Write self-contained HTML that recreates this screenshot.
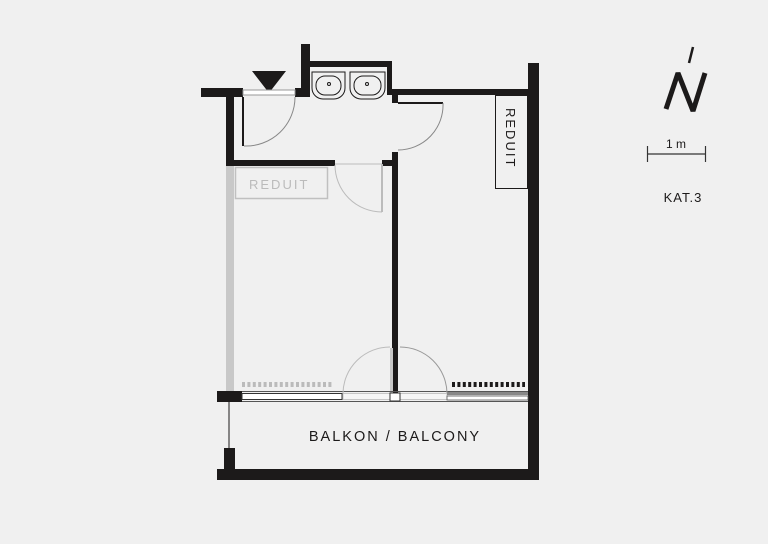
<!DOCTYPE html>
<html><head><meta charset="utf-8"><style>
html,body{margin:0;padding:0;background:#f0f0f0;}
svg{display:block;}
text{font-family:"Liberation Sans",sans-serif;}
</style></head><body>
<svg width="768" height="544" viewBox="0 0 768 544" xmlns="http://www.w3.org/2000/svg">
<rect width="768" height="544" fill="#f0f0f0"/>
<g fill="#1c1a1a">
<rect x="201" y="88" width="42" height="9"/>
<rect x="295" y="88" width="15" height="9"/>
<rect x="301" y="44" width="9" height="53"/>
<rect x="226" y="90" width="8" height="76"/>
<rect x="226" y="160" width="109" height="6"/>
<rect x="303" y="61" width="89" height="6"/>
<rect x="387" y="61" width="5" height="34"/>
<rect x="387" y="89" width="143" height="6"/>
<rect x="392" y="95" width="6" height="8"/>
<rect x="382" y="160" width="10" height="6"/>
<rect x="392" y="152" width="6" height="248"/>
<rect x="528" y="63" width="11" height="417"/>
<rect x="217" y="469" width="322" height="11"/>
<rect x="217" y="391" width="25" height="11"/>
<rect x="224" y="448" width="11" height="29"/>
<polygon points="252,71 286,71 269,93"/>
</g>
<rect x="226" y="166" width="8" height="225" fill="#c8c8c8"/>
<rect x="390" y="348" width="3" height="45" fill="#c8c8c8"/>
<line x1="229" y1="402" x2="229" y2="448" stroke="#1c1a1a" stroke-width="1"/>
<rect x="243" y="90" width="52" height="5" fill="#fff" stroke="#999" stroke-width="1"/>
<rect x="242" y="97" width="2" height="49" fill="#1c1a1a"/>
<path d="M244 146 A49 49 0 0 0 295 97" fill="none" stroke="#888" stroke-width="1"/>
<rect x="398" y="102" width="45" height="2" fill="#1c1a1a"/>
<path d="M443 103 A45 45 0 0 1 398 150" fill="none" stroke="#888" stroke-width="1"/>
<line x1="335" y1="164" x2="382" y2="164" stroke="#bbb" stroke-width="1"/>
<rect x="381" y="164" width="2" height="48" fill="#bbb"/>
<path d="M335 165 A47 47 0 0 0 382 212" fill="none" stroke="#bbb" stroke-width="1"/>
<g fill="none" stroke="#1c1a1a" stroke-width="1">
<path d="M312 72 H345 V88 A11 11 0 0 1 334 99 H323 A11 11 0 0 1 312 88 Z"/>
<rect x="316" y="76" width="25" height="19" rx="9"/>
<circle cx="329" cy="84" r="1.5"/>
<path d="M350 72 H385 V88 A11 11 0 0 1 374 99 H361 A11 11 0 0 1 350 88 Z"/>
<rect x="354" y="76" width="27" height="19" rx="9"/>
<circle cx="367" cy="84" r="1.5"/>
</g>
<rect x="495.5" y="95.5" width="32" height="93" fill="none" stroke="#1c1a1a" stroke-width="1"/>
<text x="0" y="0" font-size="13" fill="#1c1a1a" letter-spacing="2" transform="translate(506,108) rotate(90)">REDUIT</text>
<rect x="235.5" y="167.5" width="92" height="31" fill="none" stroke="#c0c0c0" stroke-width="1.5"/>
<text x="249" y="189" font-size="13" fill="#bbb" letter-spacing="2">REDUIT</text>
<line x1="242" y1="391.5" x2="528" y2="391.5" stroke="#555" stroke-width="1"/>
<line x1="242" y1="401.5" x2="528" y2="401.5" stroke="#555" stroke-width="1"/>
<rect x="242" y="393.5" width="100" height="6" fill="#fff" stroke="#333" stroke-width="1"/>
<rect x="343" y="393.5" width="104" height="6" fill="#f6f6f6" stroke="#bbb" stroke-width="0.8"/>
<rect x="390" y="393" width="10" height="8" fill="#fff" stroke="#333" stroke-width="1"/>
<rect x="447" y="392" width="81" height="3" fill="#888"/>
<rect x="447" y="396" width="81" height="4" fill="#fff" stroke="#555" stroke-width="0.8"/>
<path d="M343 393 A47 47 0 0 1 390 347" fill="none" stroke="#bbb" stroke-width="1"/>
<path d="M400 347 A47 47 0 0 1 447 393" fill="none" stroke="#999" stroke-width="1"/>
<line x1="242" y1="384.5" x2="333" y2="384.5" stroke="#bbb" stroke-width="5" stroke-dasharray="3 2.4"/>
<line x1="452" y1="384.5" x2="525" y2="384.5" stroke="#1c1a1a" stroke-width="5" stroke-dasharray="3 2.4"/>
<text x="395" y="441" font-size="14.5" fill="#1c1a1a" text-anchor="middle" letter-spacing="2">BALKON / BALCONY</text>
<polyline points="666,109 678,73 693,111 705,73" fill="none" stroke="#1c1a1a" stroke-width="5" stroke-linejoin="miter" stroke-miterlimit="2"/>
<line x1="693" y1="47" x2="689" y2="63" stroke="#1c1a1a" stroke-width="2.5"/>
<text x="676" y="148" font-size="12" fill="#1c1a1a" text-anchor="middle">1 m</text>
<g stroke="#333" stroke-width="1.2"><line x1="647" y1="154" x2="706" y2="154"/><line x1="647.5" y1="146" x2="647.5" y2="162"/><line x1="705.5" y1="146" x2="705.5" y2="162"/></g>
<text x="683" y="202" font-size="13" fill="#1c1a1a" text-anchor="middle" letter-spacing="1">KAT.3</text>
</svg>
</body></html>
